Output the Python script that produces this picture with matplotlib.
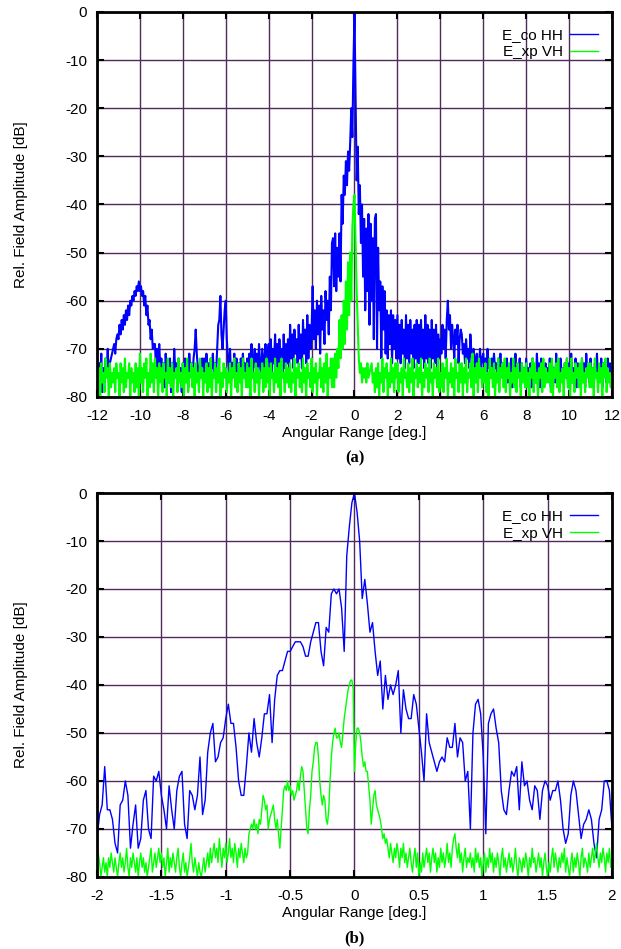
import numpy as np
import matplotlib.pyplot as plt
from matplotlib.ticker import FormatStrFormatter

plt.rcParams['font.family'] = ['Liberation Sans', 'DejaVu Sans']
plt.rcParams['axes.unicode_minus'] = False

# (a) wide scan, -12..12 deg, 0.05 deg step (one row = 1 deg)
co_hh_a = [
    -75, -78, -73, -76, -71, -79, -74, -77, -72, -75, -70, -76, -73, -72, -71, -70, -69, -71, -68, -67,
    -68, -65, -67, -64, -66, -63, -65, -62, -64, -61, -63, -60, -61, -59, -60, -58, -59, -57, -58, -56,
    -58, -57, -59, -58, -61, -59, -63, -61, -65, -64, -68, -66, -70, -69, -69, -74, -70, -75, -69, -74,
    -72, -76, -73, -78, -71, -75, -74, -77, -72, -79, -73, -76, -70, -75, -73, -78, -72, -76, -74, -79,
    -73, -77, -72, -76, -74, -78, -71, -75, -73, -77, -72, -70, -66, -71, -74, -77, -73, -76, -72, -75,
    -72, -76, -71, -75, -73, -77, -72, -74, -71, -76, -73, -75, -70, -65, -64, -59, -67, -70, -66, -62,
    -60, -68, -72, -75, -70, -76, -73, -74, -71, -77, -72, -75, -73, -76, -72, -74, -71, -75, -73, -77,
    -72, -75, -71, -74, -69, -76, -72, -70, -74, -71, -75, -69, -73, -76, -70, -72, -74, -69, -75, -71,
    -69, -74, -68, -75, -70, -73, -67, -74, -69, -75, -68, -73, -70, -75, -67, -74, -69, -73, -68, -75,
    -65, -72, -67, -74, -66, -71, -68, -73, -65, -72, -67, -74, -64, -71, -66, -73, -63, -72, -65, -70,
    -66, -57, -68, -62, -70, -60, -67, -61, -71, -59, -66, -62, -69, -58, -64, -60, -67, -55, -62, -48,
    -47, -57, -46, -58, -49, -55, -46, -56, -38, -44, -34, -38, -31, -36, -29, -33, -27, -20, -26, -11,
    0, -17, -35, -28, -42, -36, -48, -40, -55, -43, -62, -45, -58, -42, -65, -44, -60, -47, -68, -43,
    -42, -70, -49, -62, -56, -72, -57, -66, -58, -71, -62, -72, -63, -69, -62, -73, -63, -70, -64, -72,
    -63, -72, -65, -73, -64, -71, -66, -74, -63, -72, -65, -73, -64, -71, -66, -74, -65, -72, -64, -73,
    -65, -73, -64, -72, -66, -74, -63, -72, -65, -73, -66, -74, -64, -72, -66, -73, -65, -74, -67, -72,
    -68, -71, -65, -70, -66, -72, -64, -60, -66, -63, -70, -65, -68, -72, -66, -69, -65, -73, -68, -66,
    -67, -71, -69, -73, -68, -72, -70, -74, -67, -71, -73, -70, -74, -72, -71, -75, -73, -70, -74, -72,
    -71, -74, -72, -75, -70, -74, -73, -76, -72, -75, -71, -74, -73, -76, -72, -74, -71, -75, -73, -74,
    -73, -76, -72, -77, -74, -75, -72, -78, -73, -76, -71, -77, -74, -75, -72, -78, -73, -76, -74, -77,
    -72, -77, -74, -76, -73, -78, -72, -75, -74, -77, -71, -76, -73, -78, -72, -75, -74, -77, -73, -76,
    -74, -76, -72, -78, -73, -75, -74, -77, -71, -76, -73, -78, -72, -75, -74, -77, -73, -76, -72, -78,
    -73, -75, -71, -77, -74, -76, -72, -78, -73, -75, -74, -77, -72, -76, -73, -78, -71, -75, -74, -77,
    -72, -76, -74, -78, -73, -75, -71, -77, -74, -76, -72, -78, -73, -75, -74, -77, -72, -76, -73, -78,
    -75,
]
xp_vh_a = [
    -72, -78, -74, -80, -73, -77, -75, -79, -72, -76, -74, -80, -73, -78, -75, -77, -74, -79, -73, -76,
    -75, -80, -73, -77, -74, -79, -72, -78, -75, -76, -73, -80, -74, -77, -75, -79, -73, -78, -74, -80,
    -71, -77, -74, -79, -73, -76, -72, -80, -75, -78, -71, -77, -73, -79, -72, -76, -74, -80, -73, -77,
    -74, -79, -73, -76, -75, -80, -72, -77, -74, -78, -73, -80, -75, -76, -74, -79, -72, -77, -75, -78,
    -73, -80, -74, -77, -72, -79, -75, -76, -73, -78, -74, -80, -73, -77, -75, -79, -72, -76, -74, -80,
    -75, -77, -73, -79, -74, -78, -72, -80, -75, -76, -73, -79, -74, -77, -72, -80, -75, -78, -73, -76,
    -74, -79, -75, -77, -73, -80, -74, -76, -72, -78, -75, -79, -73, -77, -74, -80, -72, -76, -75, -78,
    -73, -78, -74, -80, -72, -76, -75, -79, -73, -77, -74, -80, -75, -76, -73, -79, -74, -78, -72, -77,
    -74, -80, -73, -76, -75, -79, -72, -77, -74, -78, -73, -80, -72, -76, -75, -79, -73, -77, -74, -78,
    -73, -79, -75, -77, -72, -80, -74, -76, -73, -78, -75, -79, -72, -77, -74, -80, -73, -76, -75, -78,
    -72, -79, -74, -77, -73, -80, -75, -76, -72, -78, -74, -79, -73, -77, -71, -80, -74, -76, -72, -78,
    -72, -78, -71, -76, -70, -74, -64, -72, -63, -70, -60, -69, -56, -66, -52, -63, -50, -60, -45, -40,
    -38, -48, -58, -65, -72, -75, -73, -77, -74, -76, -74, -77, -73, -76, -75, -74, -73, -77, -75, -79,
    -74, -78, -73, -80, -75, -77, -72, -79, -74, -76, -73, -80, -75, -78, -72, -77, -74, -79, -73, -76,
    -73, -79, -75, -77, -74, -80, -72, -76, -75, -78, -73, -79, -74, -77, -72, -80, -75, -76, -73, -78,
    -74, -77, -72, -80, -75, -78, -73, -76, -74, -79, -72, -77, -75, -80, -73, -76, -74, -78, -72, -79,
    -75, -78, -73, -79, -74, -76, -72, -80, -75, -77, -73, -78, -74, -80, -72, -76, -75, -79, -73, -77,
    -73, -80, -74, -77, -72, -79, -75, -76, -73, -78, -71, -80, -74, -77, -73, -79, -72, -76, -74, -78,
    -74, -77, -73, -79, -75, -80, -72, -76, -74, -78, -73, -80, -75, -77, -72, -79, -74, -76, -73, -78,
    -72, -79, -74, -76, -73, -80, -75, -77, -72, -78, -74, -79, -73, -76, -75, -80, -73, -77, -74, -78,
    -73, -78, -75, -80, -74, -76, -72, -79, -73, -77, -75, -80, -74, -76, -73, -79, -72, -78, -74, -77,
    -75, -77, -73, -79, -72, -80, -74, -76, -73, -78, -72, -79, -75, -77, -74, -80, -73, -76, -72, -78,
    -74, -80, -72, -77, -75, -79, -73, -76, -74, -78, -73, -80, -72, -77, -75, -79, -74, -76, -73, -78,
    -73, -78, -74, -80, -72, -76, -75, -79, -73, -77, -74, -80, -73, -76, -72, -79, -74, -77, -75, -78,
    -76,
]

# (b) zoom, -2..2 deg; co-pol at 0.02 deg step, cross-pol at 0.01 deg step
co_hh_b = [
    -72, -67, -65, -57, -66, -66, -68, -73, -75, -65, -64, -60, -63, -74, -69, -65, -74, -72, -64, -62,
    -70, -72, -59, -60, -58, -63, -66, -70, -61, -66, -70, -62, -59, -58, -69, -72, -62, -63, -66, -63,
    -55, -67, -64, -54, -50, -48, -56, -55, -52, -51, -47, -44, -48, -48, -53, -60, -63, -63, -57, -50,
    -54, -47, -52, -55, -51, -46, -46, -42, -52, -43, -38, -37, -37, -35, -33, -33, -32, -31, -31, -31,
    -32, -34, -34, -31, -29, -27, -27, -33, -36, -28, -29, -21, -20, -21, -20, -24, -33, -13, -7, -2,
    0, -4, -10, -22, -18, -23, -29, -27, -33, -38, -35, -45, -38, -43, -40, -42, -40, -37, -50, -41,
    -45, -47, -47, -42, -44, -49, -54, -60, -46, -52, -54, -56, -58, -56, -55, -56, -51, -53, -53, -48,
    -55, -51, -52, -60, -58, -70, -50, -44, -43, -46, -55, -71, -48, -46, -45, -49, -52, -62, -66, -67,
    -62, -58, -59, -57, -66, -56, -61, -60, -64, -66, -61, -62, -68, -62, -60, -61, -64, -62, -62, -60,
    -64, -70, -73, -71, -63, -60, -62, -67, -72, -69, -68, -66, -68, -73, -76, -68, -66, -60, -60, -62,
    -70,
]
xp_vh_b = [
    -73, -75, -77, -80, -78, -76, -79, -77, -80, -76, -78, -75, -77, -79, -76, -78, -80, -77, -75, -78,
    -76, -79, -77, -74, -78, -80, -76, -78, -75, -77, -79, -76, -80, -77, -75, -78, -76, -79, -77, -80,
    -78, -76, -74, -79, -77, -75, -78, -76, -74, -77, -75, -78, -76, -80, -77, -74, -79, -76, -78, -75,
    -77, -79, -76, -74, -78, -80, -77, -75, -79, -77, -80, -78, -76, -73, -77, -79, -76, -78, -80, -77,
    -79, -80, -78, -76, -79, -77, -75, -78, -74, -77, -75, -73, -76, -74, -77, -72, -75, -78, -74, -76,
    -73, -77, -75, -72, -76, -74, -77, -73, -75, -78, -74, -76, -73, -75, -77, -74, -76, -75, -71, -70,
    -69, -70, -68, -70, -69, -71, -68, -69, -66, -63, -64, -66, -65, -70, -68, -67, -66, -65, -68, -70,
    -68, -71, -74, -70, -66, -62, -61, -62, -60, -62, -61, -63, -62, -64, -63, -62, -60, -62, -59, -57,
    -58, -62, -66, -70, -71, -66, -63, -58, -56, -53, -52, -52, -55, -60, -63, -65, -63, -64, -68, -69,
    -66, -60, -55, -52, -50, -49, -51, -51, -50, -52, -53, -50, -47, -45, -43, -41, -40, -39, -39, -41,
    -58, -52, -49, -49, -50, -52, -55, -57, -56, -58, -58, -61, -64, -69, -66, -63, -62, -65, -66, -67,
    -68, -70, -72, -71, -73, -72, -74, -76, -73, -75, -77, -74, -76, -73, -75, -78, -74, -76, -73, -77,
    -75, -78, -76, -74, -77, -79, -76, -74, -78, -75, -80, -77, -79, -75, -78, -76, -74, -77, -75, -79,
    -76, -74, -77, -75, -79, -76, -78, -74, -77, -75, -78, -76, -73, -77, -75, -78, -74, -72, -71, -74,
    -76, -73, -77, -75, -79, -76, -74, -78, -76, -77, -75, -78, -76, -79, -74, -77, -75, -78, -76, -80,
    -77, -75, -79, -76, -78, -74, -77, -75, -79, -76, -78, -75, -77, -80, -76, -74, -78, -76, -79, -77,
    -75, -78, -76, -79, -77, -74, -78, -80, -76, -77, -79, -76, -78, -75, -77, -80, -76, -78, -74, -77,
    -76, -79, -77, -75, -78, -76, -80, -77, -75, -78, -80, -77, -79, -76, -74, -78, -75, -77, -79, -76,
    -78, -75, -77, -74, -79, -76, -78, -80, -77, -75, -79, -76, -78, -75, -77, -80, -76, -74, -78, -76,
    -77, -79, -75, -78, -76, -74, -77, -75, -73, -76, -78, -75, -77, -74, -76, -79, -75, -77, -74, -78,
    -76,
]

x_ticks_a = list(range(-12, 13, 2))
x_ticks_b = [-2, -1.5, -1, -0.5, 0, 0.5, 1, 1.5, 2]
y_ticks = list(range(-80, 1, 10))

angle_a = np.linspace(-12, 12, len(co_hh_a))
angle_b_co = np.linspace(-2, 2, len(co_hh_b))
angle_b_xp = np.linspace(-2, 2, len(xp_vh_b))

grid_color = '#4f2a5a'

fig = plt.figure(figsize=(6.21, 9.49), dpi=100)
ax_a = fig.add_axes([0.1562, 0.5817, 0.8293, 0.4057])
ax_b = fig.add_axes([0.1562, 0.0759, 0.8293, 0.4046])

ax_a.plot(angle_a, co_hh_a, color='#0000ff', lw=1.5, label='E_co HH')
ax_a.plot(angle_a, xp_vh_a, color='#00ff00', lw=1.5, label='E_xp VH')
ax_b.plot(angle_b_co, co_hh_b, color='#0000ff', lw=1.0, label='E_co HH')
ax_b.plot(angle_b_xp, xp_vh_b, color='#00ff00', lw=1.0, label='E_xp VH')

for ax, xt, tag in [(ax_a, x_ticks_a, '(a)'), (ax_b, x_ticks_b, '(b)')]:
    ax.set_xlim(xt[0], xt[-1])
    ax.set_ylim(-80, 0)
    ax.set_xticks(xt)
    ax.set_yticks(y_ticks)
    ax.xaxis.set_major_formatter(FormatStrFormatter('%g'))
    ax.grid(True, color=grid_color, lw=1.0)
    ax.set_axisbelow(True)
    for s in ax.spines.values():
        s.set_linewidth(2.0)
    ax.tick_params(direction='in', length=5, width=1.5, top=True, right=True,
                   labelsize=11, pad=7)
    ax.tick_params(axis='x', pad=9)
    ax.set_xlabel('Angular Range [deg.]', fontsize=11, labelpad=2)
    ax.set_ylabel('Rel. Field Amplitude [dB]', fontsize=11, labelpad=27)
    leg = ax.legend(loc='upper right', bbox_to_anchor=(0.993, 0.985), frameon=False,
                    markerfirst=False, fontsize=11, handlelength=1.8,
                    handletextpad=0.5, labelspacing=0.2, borderpad=0.2)
    for line in leg.get_lines():
        line.set_linewidth(1.0)
    ax.text(0.5, -0.16, tag, transform=ax.transAxes, ha='center', va='center',
            fontsize=12, fontweight='bold', family='Liberation Serif')

fig.savefig('out.png', dpi=100)
